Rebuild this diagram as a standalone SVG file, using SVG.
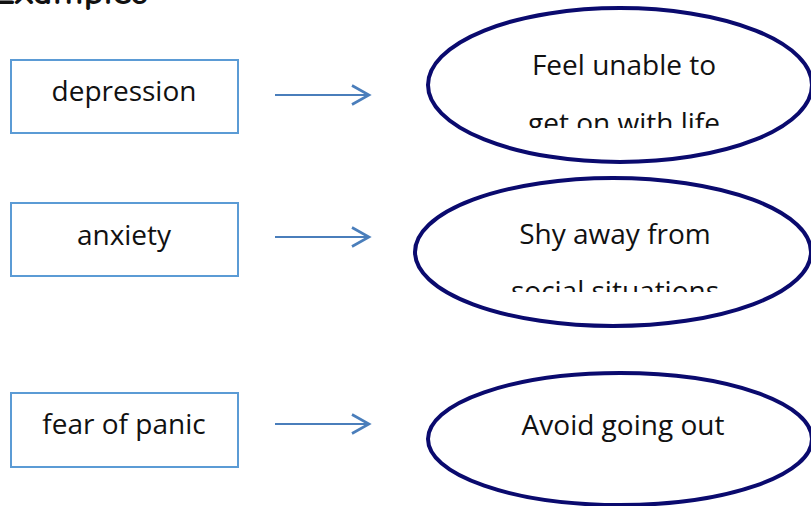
<svg xmlns="http://www.w3.org/2000/svg" width="811" height="506" viewBox="0 0 811 506">
<style>
.box{fill:#fff;stroke:#5b9bd5;stroke-width:2}
.ell{fill:#fff;stroke:#0a0a6e;stroke-width:4}
.t{font-family:"Open Sans","Liberation Sans",sans-serif;font-size:28px;fill:#111;text-anchor:middle}
.con{stroke:#4a7ebb;stroke-width:2.2;fill:none}
</style>
<defs>
<marker id="arr" markerWidth="22" markerHeight="24" refX="19" refY="12" orient="auto" markerUnits="userSpaceOnUse">
<path d="M2,2.5 L19,12 L2,21.5" fill="none" stroke="#4a7ebb" stroke-width="2.6"/>
</marker>
<clipPath id="c1"><rect x="400" y="0" width="411" height="128"/></clipPath>
<clipPath id="c2"><rect x="400" y="170" width="411" height="122"/></clipPath>
</defs>
<rect width="811" height="506" fill="#fff"/>
<text x="-8" y="4" font-family="'Comic Neue','DejaVu Sans',sans-serif" font-weight="bold" font-size="34" textLength="156" lengthAdjust="spacingAndGlyphs" fill="#111">Examples</text>
<g id="depression"><rect class="box" x="11" y="60" width="227" height="73"/><text class="t" x="124" y="101">depression</text></g>
<g id="anxiety"><rect class="box" x="11" y="203" width="227" height="73"/><text class="t" x="124" y="245">anxiety</text></g>
<g id="fear"><rect class="box" x="11" y="393" width="227" height="74"/><text class="t" x="124" y="434">fear of panic</text></g>
<g id="connectors">
<line class="con" x1="275" y1="95" x2="369" y2="95" marker-end="url(#arr)"/>
<line class="con" x1="275" y1="237" x2="369" y2="237" marker-end="url(#arr)"/>
<line class="con" x1="275" y1="424" x2="369" y2="424" marker-end="url(#arr)"/>
</g>
<g id="e1"><ellipse class="ell" cx="620" cy="85" rx="192" ry="77"/>
<g clip-path="url(#c1)"><text class="t" x="624" y="75">Feel unable to</text><text class="t" x="624" y="133">get on with life</text></g></g>
<g id="e2"><ellipse class="ell" cx="613" cy="252" rx="198" ry="74"/>
<g clip-path="url(#c2)"><text class="t" x="615" y="244">Shy away from</text><text class="t" x="615" y="301">social situations</text></g></g>
<g id="e3"><ellipse class="ell" cx="620" cy="439" rx="192" ry="66"/>
<text class="t" x="623" y="435">Avoid going out</text></g>
</svg>
